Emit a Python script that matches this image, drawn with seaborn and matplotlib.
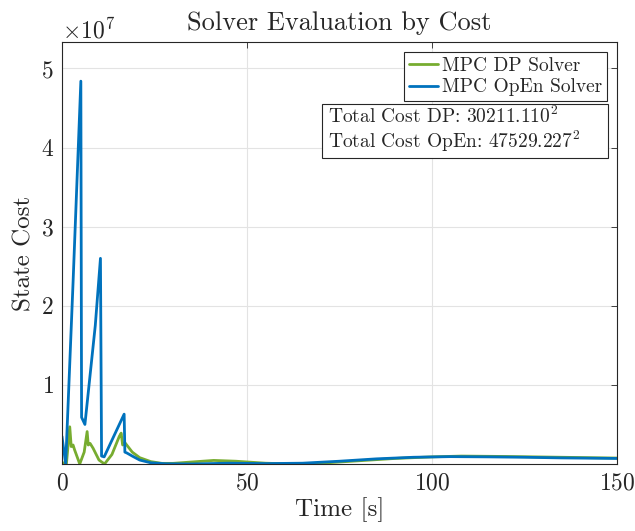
import numpy as np
import pandas as pd
import matplotlib
matplotlib.use("Agg")
import matplotlib.pyplot as plt
from matplotlib.patches import Rectangle
import seaborn as sns

# time [s] and state cost
t_dp = [0, 1.2, 2.1, 2.5, 3.0, 3.4, 4.8, 6.0, 6.8, 7.1, 7.6, 8.4, 10.0, 11.5,
        13.5, 15.5, 16.0, 16.4, 17.0, 19, 21, 24, 27, 30, 35, 41, 47, 55, 62,
        70, 80, 90, 100, 108, 120, 135, 150]
cost_dp = [0.02e7, 0.0, 0.47e7, 0.22e7, 0.24e7, 0.18e7, 0.0, 0.15e7, 0.41e7,
           0.24e7, 0.26e7, 0.2e7, 0.05e7, 0.0, 0.12e7, 0.35e7, 0.39e7, 0.24e7,
           0.27e7, 0.15e7, 0.08e7, 0.03e7, 0.008e7, 0.008e7, 0.025e7, 0.045e7,
           0.035e7, 0.01e7, 0.0, 0.01e7, 0.04e7, 0.07e7, 0.09e7, 0.1e7,
           0.095e7, 0.085e7, 0.075e7]

t_open = [0, 1.0, 3.0, 5.1, 5.3, 6.2, 9.0, 10.4, 10.7, 11.4, 16.8, 17.0, 17.5,
          19, 21, 24, 28, 35, 45, 55, 65, 75, 85, 95, 105, 115, 125, 135, 150]
cost_open = [0.35e7, 0.0, 2.3e7, 4.84e7, 0.59e7, 0.5e7, 1.75e7, 2.6e7, 0.1e7,
             0.09e7, 0.63e7, 0.15e7, 0.14e7, 0.1e7, 0.05e7, 0.015e7, 0.003e7,
             0.0, 0.01e7, 0.005e7, 0.01e7, 0.035e7, 0.065e7, 0.085e7, 0.093e7,
             0.09e7, 0.085e7, 0.077e7, 0.07e7]

labels = ["MPC DP Solver", "MPC OpEn Solver"]
totals = ["30211.110", "47529.227"]

sns.set_style("white")
plt.rcParams["font.family"] = ["cmr10", "DejaVu Serif"]
plt.rcParams["mathtext.fontset"] = "cm"
plt.rcParams["axes.formatter.use_mathtext"] = True
plt.rcParams["axes.unicode_minus"] = False

fig = plt.figure(figsize=(6.35, 5.31), dpi=100)
ax = fig.add_axes([0.0976, 0.1262, 0.874, 0.7947])

sns.lineplot(x=t_dp, y=cost_dp, ax=ax, color="#77AC30", lw=2, label=labels[0], estimator=None)
sns.lineplot(x=t_open, y=cost_open, ax=ax, color="#0072BD", lw=2, label=labels[1], estimator=None)

ax.set_xlim(0, 150)
ax.set_ylim(0, 5.335e7)
ax.set_xticks([0, 50, 100, 150])
ax.set_yticks([1e7, 2e7, 3e7, 4e7, 5e7])
ax.grid(True, color="#e3e3e3", lw=0.8)
ax.tick_params(direction="in", top=True, right=True, length=4, width=0.6,
               labelsize=17, colors="#262626")
ax.tick_params(axis="x", pad=6)
ax.tick_params(axis="y", pad=6)
for s in ax.spines.values():
    s.set_linewidth(0.8)
    s.set_color("#262626")
ax.yaxis.get_offset_text().set_fontsize(17)

ax.set_title("Solver Evaluation by Cost", fontsize=19, pad=9)
ax.set_xlabel("Time [s]", fontsize=18, labelpad=2)
ax.set_ylabel("State Cost", fontsize=18, labelpad=4)

leg = ax.legend(loc="upper right", fontsize=14, frameon=True, fancybox=False,
                edgecolor="#262626", framealpha=1, borderpad=0.25, labelspacing=0.2,
                handlelength=1.5, handletextpad=0.2, borderaxespad=0.5)
leg.get_frame().set_linewidth(0.8)

# annotation box with the total costs
ax.add_patch(Rectangle((0.4685, 0.725), 0.5153, 0.128, transform=ax.transAxes,
                       fc="white", ec="#262626", lw=0.8, zorder=5))
ax.text(0.479, 0.808, f"Total Cost DP: ${totals[0]}^2$", transform=ax.transAxes,
        ha="left", va="baseline", fontsize=14, zorder=6)
ax.text(0.479, 0.749, f"Total Cost OpEn: ${totals[1]}^2$", transform=ax.transAxes,
        ha="left", va="baseline", fontsize=14, zorder=6)

fig.savefig("out.png", dpi=100)
